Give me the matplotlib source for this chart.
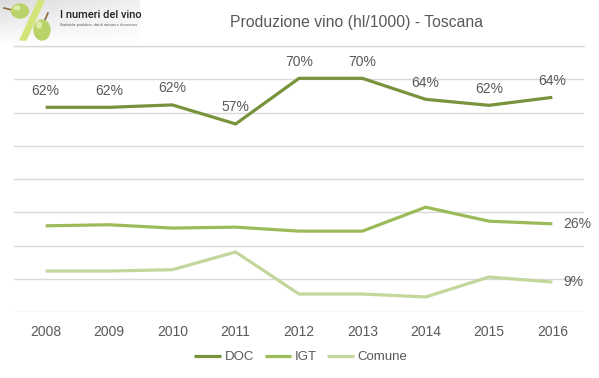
import numpy as np
import matplotlib
matplotlib.use("Agg")
import matplotlib.pyplot as plt
from matplotlib.patches import Ellipse, Polygon

years = ["2008", "2009", "2010", "2011", "2012", "2013", "2014", "2015", "2016"]
doc = [1539, 1539, 1557, 1414, 1757, 1757, 1599, 1554, 1614]
igt = [648, 656, 631, 638, 608, 608, 788, 683, 663]
comune = [308, 308, 318, 451, 135, 135, 113, 263, 225]
doc_labels = ["62%", "62%", "62%", "57%", "70%", "70%", "64%", "62%", "64%"]
igt_last_label = "26%"
comune_last_label = "9%"
series_names = ["DOC", "IGT", "Comune"]
title = "Produzione vino (hl/1000) - Toscana"

c_doc = "#77933C"
c_igt = "#9BBB59"
c_com = "#C3D69B"
txt = "#595959"
grid_c = "#D9D9D9"

plt.rcParams['font.family'] = ['Liberation Sans', 'DejaVu Sans']

W, H = 599, 378
fig = plt.figure(figsize=(W / 100, H / 100), dpi=100)

def fx(px):
    return px / W

def fy(py):
    return 1 - py / H

ax = fig.add_axes([fx(14), fy(312), fx(584) - fx(14), fy(46) - fy(312)])
x = np.arange(len(years))
ax.plot(x, doc, color=c_doc, lw=2.3, solid_capstyle='butt', label=series_names[0], zorder=3)
ax.plot(x, igt, color=c_igt, lw=2.3, solid_capstyle='butt', label=series_names[1], zorder=3)
ax.plot(x, comune, color=c_com, lw=2.3, solid_capstyle='butt', label=series_names[2], zorder=3)

ax.set_xlim(-0.5, len(years) - 0.5)
ax.set_ylim(0, 2000)
ax.set_yticks(np.arange(0, 2001, 250))
ax.yaxis.grid(True, color=grid_c, lw=1)
ax.set_axisbelow(True)
ax.tick_params(axis='y', left=False, labelleft=False)
ax.set_xticks(x)
ax.set_xticklabels(years, color=txt, fontsize=10)
ax.tick_params(axis='x', length=0, pad=9)
for s in ax.spines.values():
    s.set_visible(False)

for xi, v, lab in zip(x, doc, doc_labels):
    ax.annotate(lab, (xi, v), xytext=(0, 7), textcoords='offset points',
                ha='center', va='bottom', color=txt, fontsize=10)
ax.annotate(igt_last_label, (x[-1], igt[-1]), xytext=(8, 0), textcoords='offset points',
            ha='left', va='center', color=txt, fontsize=10)
ax.annotate(comune_last_label, (x[-1], comune[-1]), xytext=(8, 0), textcoords='offset points',
            ha='left', va='center', color=txt, fontsize=10)

leg = fig.legend(loc='center', bbox_to_anchor=(fx(301), fy(357)), ncol=3, frameon=False,
                 fontsize=9.5, handlelength=2.0, handletextpad=0.3, columnspacing=0.8)
for t in leg.get_texts():
    t.set_color(txt)

# title
fig.text(fx(356.5), fy(23), title, ha='center', va='center', fontsize=11.3, color=txt)
# separator line under header
fig.add_artist(plt.Line2D([fx(14), fx(584)], [fy(46), fy(46)], color=grid_c, lw=1))

# logo
lax = fig.add_axes([0, fy(45), fx(140), 1 - fy(45)])
lax.set_xlim(0, 140)
lax.set_ylim(45, 0)
lax.axis('off')
gx = np.linspace(0, 1, 140)
gy = np.linspace(0, 1, 45)
GX, GY = np.meshgrid(gx, gy)
val = 1 - 0.14 * (1 - GY) * (1 - 0.6 * GX)
img = np.dstack([val, val, val])
lax.imshow(img, extent=(0, 140, 45, 0), aspect='auto', zorder=0)
lax.plot([4, 12], [8, 10], color="#8B6A3A", lw=1.2, zorder=2)
lax.add_patch(Ellipse((20, 11), 17, 14, color="#B9D36A", zorder=3))
lax.add_patch(Ellipse((17, 8), 6, 4, color="#DDEBA8", zorder=4))
lax.add_patch(Polygon([[38, 1], [44, 1], [26, 40], [20, 40]], closed=True, color="#D4E47A", zorder=2))
lax.plot([48, 44], [13, 22], color="#8B6A3A", lw=1.2, zorder=4)
lax.add_patch(Ellipse((42, 30), 16, 20, color="#B9D36A", zorder=5))
lax.add_patch(Ellipse((39, 25), 5, 6, color="#DDEBA8", zorder=6))
lax.text(60, 15, "I numeri del vino", fontsize=8, color="#222222", va='center', ha='left',
         family=['Roboto', 'DejaVu Sans'], fontweight='medium')
lax.text(60, 25, "Statistiche produttive, dati di mercato e di consumo.", fontsize=2.4,
         color="#555555", va='center', ha='left')

fig.savefig("out.png", dpi=100)
